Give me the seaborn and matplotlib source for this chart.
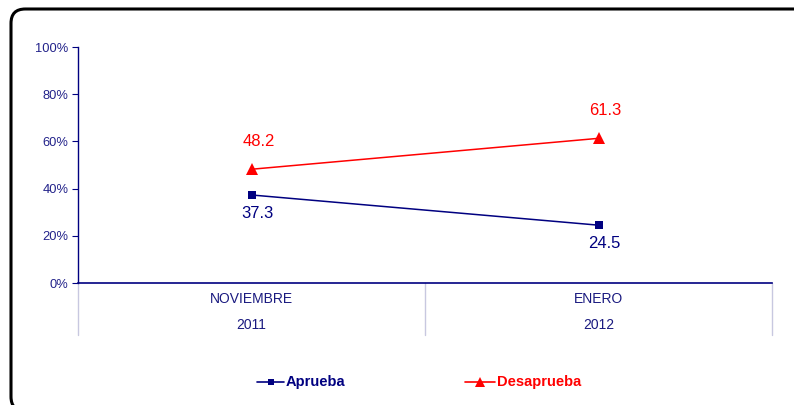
import matplotlib
matplotlib.use("Agg")
import matplotlib.pyplot as plt
import matplotlib.transforms as mtransforms
from matplotlib.patches import FancyBboxPatch
import seaborn as sns
import pandas as pd

# ---- data ----
months = ["NOVIEMBRE", "ENERO"]
years = ["2011", "2012"]
aprueba = [37.3, 24.5]
desaprueba = [48.2, 61.3]
series_names = ["Aprueba", "Desaprueba"]
y_ticks = [0, 20, 40, 60, 80, 100]

NAVY = "#000080"
RED = "#FF0000"

sns.set_theme(style="white")
plt.rcParams["font.family"] = ["Liberation Sans", "DejaVu Sans"]

W, H = 794, 405
fig = plt.figure(figsize=(W / 100, H / 100), dpi=100)

# rounded frame
frame = FancyBboxPatch((11 / W, -6 / H), (W + 40) / W, (H - 9 + 6) / H,
                       boxstyle="round,pad=0,rounding_size=0.018",
                       transform=fig.transFigure, fill=False,
                       edgecolor="black", linewidth=2.2,
                       mutation_aspect=W / H, clip_on=False)
fig.patches.append(frame)

ax = fig.add_axes([78 / W, (H - 283) / H, (772 - 78) / W, (283 - 47) / H])

df_a = pd.DataFrame({"mes": months, "valor": aprueba})
df_d = pd.DataFrame({"mes": months, "valor": desaprueba})
sns.lineplot(data=df_a, x="mes", y="valor", color=NAVY, marker="s",
             markersize=6, linewidth=1.1, markeredgewidth=0, ax=ax, sort=False)
sns.lineplot(data=df_d, x="mes", y="valor", color=RED, marker="^",
             markersize=9, linewidth=1.1, markeredgewidth=0, ax=ax, sort=False)

ax.set_xlim(-0.5, 1.5)
ax.set_ylim(0, 100)
ax.set_yticks(y_ticks)
ax.set_yticklabels([f"{t}%" for t in y_ticks], color="#22228a", fontsize=9.3)
ax.set_xticks([])
ax.set_xlabel("")
ax.set_ylabel("")
ax.tick_params(axis="y", which="both", left=True, length=4, width=0.8,
               color=NAVY, pad=3)
for s in ["top", "right"]:
    ax.spines[s].set_visible(False)
ax.spines["left"].set_color(NAVY)
ax.spines["bottom"].set_color(NAVY)
ax.spines["left"].set_linewidth(1.0)
ax.spines["bottom"].set_linewidth(1.2)

# value labels
for i, v in enumerate(aprueba):
    ax.annotate(f"{v}", (i, v), xytext=(4, -13), textcoords="offset points",
                ha="center", va="center", color=NAVY, fontsize=12)
for i, v in enumerate(desaprueba):
    ax.annotate(f"{v}", (i, v), xytext=(5, 20), textcoords="offset points",
                ha="center", va="center", color=RED, fontsize=12)

# category separators and two-level labels
trans = mtransforms.blended_transform_factory(ax.transData, ax.transAxes)
sep_bottom = -(335 - 283) / (283 - 47)
for xs in [-0.5, 0.5, 1.5]:
    ax.plot([xs, xs], [0, sep_bottom], transform=trans, color="#c8c8e0",
            linewidth=1.0, clip_on=False)
for i, (m, yv) in enumerate(zip(months, years)):
    ax.text(i, -(299 - 283) / 236, m, transform=trans, ha="center", va="center",
            color="#1a1a80", fontsize=10)
    ax.text(i, -(325 - 283) / 236, yv, transform=trans, ha="center", va="center",
            color="#1a1a80", fontsize=10)

# legend
ly = 1 - 382 / H
for x0, x1, col, mk, ms, name in [(257, 284, NAVY, "s", 5, series_names[0]),
                                  (465, 495, RED, "^", 7, series_names[1])]:
    fig.lines.append(plt.Line2D([x0 / W, x1 / W], [ly, ly],
                                transform=fig.transFigure, color=col, linewidth=1.2))
    fig.lines.append(plt.Line2D([(x0 + x1) / 2 / W], [ly], transform=fig.transFigure,
                                color=col, marker=mk, markersize=ms,
                                markeredgewidth=0, linestyle="none"))
    fig.text((x1 + 2) / W, ly, name, color=col, fontsize=10.5, fontweight="bold",
             ha="left", va="center")

fig.savefig("out.png", dpi=100)
